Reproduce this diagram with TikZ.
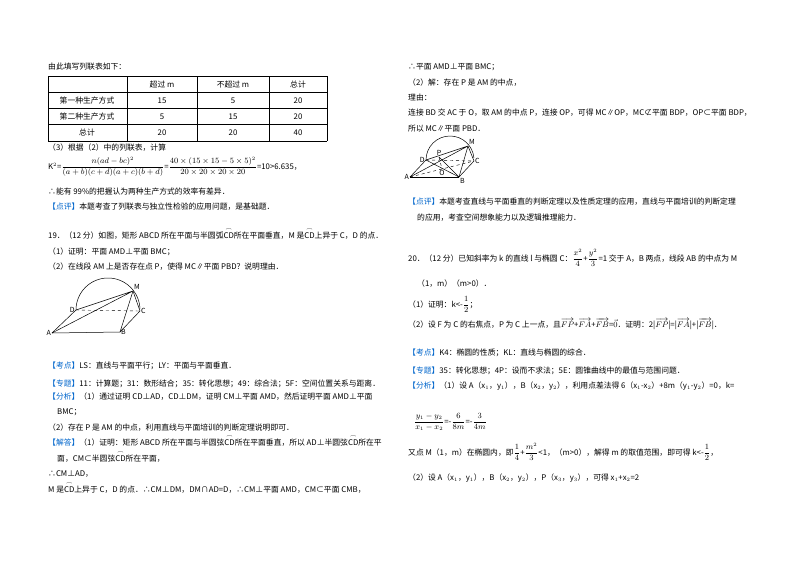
\documentclass[tikz,border=0pt]{standalone}
\usepackage{amsmath}
\usepackage{fontspec}
\setmainfont{Noto Sans CJK SC}
\definecolor{kb}{RGB}{0,102,204}
\newcommand{\arcx}[1]{\ensuremath{\overset{\frown}{\mathrm{#1}}}}
\newcommand{\kb}[1]{\textcolor{kb}{【#1】}}
\begin{document}
\begin{tikzpicture}[x=1pt,y=-1pt,font=\fontsize{7.8}{9}\selectfont,
  txt/.style={anchor=base west,inner sep=0pt},
  cel/.style={anchor=base,inner sep=0pt},
  ln/.style={line width=0.5pt},
  dsh/.style={line width=0.4pt,dashed},
  lbl/.style={inner sep=1pt,font=\fontsize{7}{8}\itshape\selectfont}]
\useasboundingbox (0,0) rectangle (800,565);
\fill[white] (0,0) rectangle (800,565);
% ---------- left column ----------
\node[txt] (l1) at (48,69) {由此填写列联表如下：};
\foreach \yy in {76,92,108,124,141} \draw[ln] (48,\yy) -- (327,\yy);
\foreach \xx in {48,127,197,269,327} \draw[ln] (\xx,76) -- (\xx,141);
\node[cel] (c12) at (162,87) {超过 m};
\node[cel] (c13) at (233,87) {不超过 m};
\node[cel] (c14) at (298,87) {总计};
\node[cel] (c21) at (87,103) {第一种生产方式};
\node[cel] (c22) at (162,103) {15};
\node[cel] (c23) at (233,103) {5};
\node[cel] (c24) at (298,103) {20};
\node[cel] (c31) at (87,119) {第二种生产方式};
\node[cel] (c32) at (162,119) {5};
\node[cel] (c33) at (233,119) {15};
\node[cel] (c34) at (298,119) {20};
\node[cel] (c41) at (87,135) {总计};
\node[cel] (c42) at (162,135) {20};
\node[cel] (c43) at (233,135) {20};
\node[cel] (c44) at (298,135) {40};
\node[txt] (l2) at (48,150) {（3）根据（2）中的列联表，计算};
\node[txt] (l3) at (48,169) {K$^2$=$\dfrac{n(ad-bc)^2}{(a+b)(c+d)(a+c)(b+d)}$=$\dfrac{40\times(15\times15-5\times5)^2}{20\times20\times20\times20}$=10>6.635，};
\node[txt] (l4) at (48,194) {∴能有 99\%的把握认为两种生产方式的效率有差异．};
\node[txt] (l5) at (48,209) {\kb{点评}本题考查了列联表与独立性检验的应用问题，是基础题．};
\node[txt] (l6) at (48,238) {19．（12 分）如图，矩形 ABCD 所在平面与半圆弧\arcx{CD}所在平面垂直，M 是\arcx{CD}上异于 C，D 的点．};
\node[txt] (l7) at (48,254) {（1）证明：平面 AMD⊥平面 BMC；};
\node[txt] (l8) at (48,269) {（2）在线段 AM 上是否存在点 P，使得 MC∥平面 PBD？说明理由．};
% figure 1
\coordinate (A1) at (52,333); \coordinate (B1) at (120,332);
\coordinate (C1) at (140,311); \coordinate (D1) at (76,310);
\coordinate (M1) at (133,291);
\draw[ln] (D1) arc[start angle=180,end angle=358,radius=32];
\draw[ln] (A1) -- (B1) -- (C1);
\draw[ln] (A1) -- (D1);
\draw[dsh] (D1) -- (C1);
\draw[ln] (D1) -- (M1) -- (A1);
\draw[ln] (M1) -- (B1);
\draw[ln] (M1) -- (C1);
\node[lbl,left] (nA1) at (A1) {A};
\node[lbl,right] (nB1) at (B1) {B};
\node[lbl,right] (nC1) at (C1) {C};
\node[lbl,left] (nD1) at (D1) {D};
\node[lbl,above right] (nM1) at (M1) {M};
\node[txt] (l9) at (48,368) {\kb{考点}LS：直线与平面平行；LY：平面与平面垂直．};
\node[txt] (l10) at (48,386) {\kb{专题}11：计算题；31：数形结合；35：转化思想；49：综合法；5F：空间位置关系与距离．};
\node[txt] (l11) at (48,399) {\kb{分析}（1）通过证明 CD⊥AD，CD⊥DM，证明 CM⊥平面 AMD，然后证明平面 AMD⊥平面};
\node[txt] (l12) at (57,414) {BMC；};
\node[txt] (l13) at (48,430) {（2）存在 P 是 AM 的中点，利用直线与平面培训的判断定理说明即可．};
\node[txt] (l14) at (48,445) {\kb{解答}（1）证明：矩形 ABCD 所在平面与半圆弦\arcx{CD}所在平面垂直，所以 AD⊥半圆弦\arcx{CD}所在平};
\node[txt] (l15) at (57,461) {面，CM⊂半圆弦\arcx{CD}所在平面，};
\node[txt] (l16) at (48,476) {∴CM⊥AD，};
\node[txt] (l17) at (48,492) {M 是\arcx{CD}上异于 C，D 的点．∴CM⊥DM，DM∩AD=D，∴CM⊥平面 AMD，CM⊂平面 CMB，};
% ---------- right column ----------
\node[txt] (r1) at (408,69) {∴平面 AMD⊥平面 BMC；};
\node[txt] (r2) at (408,85) {（2）解：存在 P 是 AM 的中点，};
\node[txt] (r3) at (408,100) {理由：};
\node[txt] (r4) at (408,115) {连接 BD 交 AC 于 O，取 AM 的中点 P，连接 OP，可得 MC∥OP，MC⊄平面 BDP，OP⊂平面 BDP，};
\node[txt] (r5) at (408,131) {所以 MC∥平面 PBD．};
% figure 2
\coordinate (A2) at (410,177); \coordinate (B2) at (459,177);
\coordinate (C2) at (474,161); \coordinate (D2) at (426,160);
\coordinate (M2) at (468,146); \coordinate (P2) at (439,157);
\coordinate (O2) at (442,169);
\draw[ln] (D2) arc[start angle=180,end angle=355,radius=24];
\draw[line width=0.9pt] (A2) -- (B2);
\draw[ln] (B2) -- (C2);
\draw[ln] (A2) -- (D2);
\draw[dsh] (D2) -- (C2);
\draw[dsh] (A2) -- (C2);
\draw[ln] (D2) -- (M2) -- (A2);
\draw[ln] (M2) -- (B2);
\draw[ln] (M2) -- (C2);
\draw[ln] (D2) -- (B2);
\draw[ln] (P2) -- (B2);
\draw[dsh] (P2) -- (O2);
\node[lbl,left] (nA2) at (A2) {A};
\node[lbl,below right] (nB2) at (B2) {B};
\node[lbl,right] (nC2) at (C2) {C};
\node[lbl,left] (nD2) at (D2) {D};
\node[lbl,above right] (nM2) at (M2) {M};
\node[lbl,above] (nP2) at (P2) {P};
\node[lbl,below] (nO2) at (O2) {O};
\node[txt] (r6) at (408,204) {\kb{点评}本题考查直线与平面垂直的判断定理以及性质定理的应用，直线与平面培训的判断定理};
\node[txt] (r7) at (417,220) {的应用，考查空间想象能力以及逻辑推理能力．};
\node[txt] (r8) at (408,261) {20．（12 分）已知斜率为 k 的直线 l 与椭圆 C：$\dfrac{x^2}{4}$+$\dfrac{y^2}{3}$=1 交于 A，B 两点，线段 AB 的中点为 M};
\node[txt] (r9) at (417,286) {（1，m）（m>0）．};
\node[txt] (r10) at (408,307) {（1）证明：k<-$\dfrac{1}{2}$；};
\node[txt] (r11) at (408,327) {（2）设 F 为 C 的右焦点，P 为 C 上一点，且$\overrightarrow{FP}$+$\overrightarrow{FA}$+$\overrightarrow{FB}$=$\vec 0$．证明：2|$\overrightarrow{FP}$|=|$\overrightarrow{FA}$|+|$\overrightarrow{FB}$|．};
\node[txt] (r12) at (408,355) {\kb{考点}K4：椭圆的性质；KL：直线与椭圆的综合．};
\node[txt] (r13) at (408,373) {\kb{专题}35：转化思想；4P：设而不求法；5E：圆锥曲线中的最值与范围问题．};
\node[txt] (r14) at (408,388) {\kb{分析}（1）设 A（x$_1$，y$_1$），B（x$_2$，y$_2$），利用点差法得 6（x$_1$-x$_2$）+8m（y$_1$-y$_2$）=0，k=};
\node[txt] (r15) at (414,424) {$\dfrac{y_1-y_2}{x_1-x_2}$=-$\dfrac{6}{8m}$=-$\dfrac{3}{4m}$};
\node[txt] (r16) at (408,455) {又点 M（1，m）在椭圆内，即$\dfrac{1}{4}$+$\dfrac{m^2}{3}$<1，（m>0），解得 m 的取值范围，即可得 k<-$\dfrac{1}{2}$，};
\node[txt] (r17) at (408,480) {（2）设 A（x$_1$，y$_1$），B（x$_2$，y$_2$），P（x$_3$，y$_3$），可得 x$_1$+x$_2$=2};
\end{tikzpicture}
\end{document}
